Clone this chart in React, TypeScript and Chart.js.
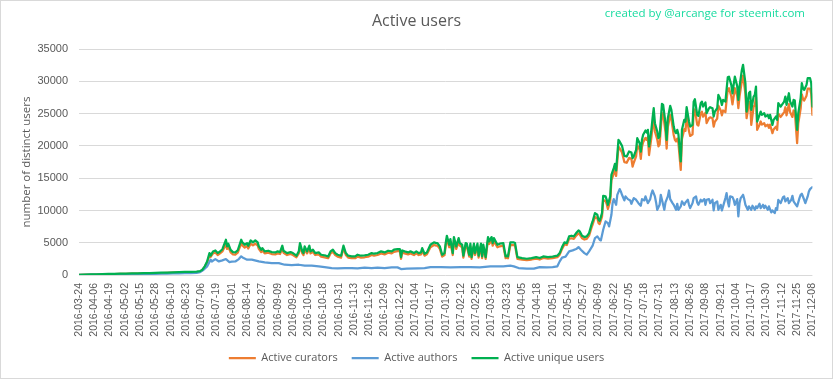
import React, { useEffect, useRef } from 'react';
import { Chart, registerables } from 'chart.js';

Chart.register(...registerables);

// Day offsets are counted from START_DATE (2016-03-24)
const START_DATE = '2016-03-24';

const tickLabels = [
  '2016-03-24', '2016-04-06', '2016-04-19', '2016-05-02', '2016-05-15', '2016-05-28', '2016-06-10',
  '2016-06-23', '2016-07-06', '2016-07-19', '2016-08-01', '2016-08-14', '2016-08-27', '2016-09-09',
  '2016-09-22', '2016-10-05', '2016-10-18', '2016-10-31', '2016-11-13', '2016-11-26', '2016-12-09',
  '2016-12-22', '2017-01-04', '2017-01-17', '2017-01-30', '2017-02-12', '2017-02-25', '2017-03-10',
  '2017-03-23', '2017-04-05', '2017-04-18', '2017-05-01', '2017-05-14', '2017-05-27', '2017-06-09',
  '2017-06-22', '2017-07-05', '2017-07-18', '2017-07-31', '2017-08-13', '2017-08-26', '2017-09-08',
  '2017-09-21', '2017-10-04', '2017-10-17', '2017-10-30', '2017-11-12', '2017-11-25', '2017-12-08',
];

const yTickValues = [0, 5000, 10000, 15000, 20000, 25000, 30000, 35000];

// days shared by "Active unique users" and "Active curators"
const uniqueDays = [
  0, 5, 10, 15, 20, 25, 30, 35, 40, 45, 50, 55, 60, 65, 70, 75, 80, 85, 90, 95, 100, 103,
  105, 107, 109, 111, 112, 114, 116, 118, 120, 122,
  125, 126, 127, 129, 131, 133, 135, 138, 139, 141,
  143, 144, 146, 148, 150, 152, 153, 155, 156, 158,
  161, 164, 167, 169, 171, 173, 174, 177, 180, 182,
  185, 187, 188, 190, 191, 192, 194, 196, 197, 199,
  201, 204, 206, 210, 212, 214, 216, 218, 220, 223,
  225, 227, 229, 232, 235, 237, 240, 243, 246, 249,
  251, 254, 257, 260, 263, 266, 268, 271, 273, 274,
  275, 277, 280, 282, 285, 287, 289, 291, 292, 294,
  296, 299, 302, 304, 305, 307, 309, 311, 312, 313,
  315, 316, 318, 319, 321, 323, 324, 326, 327, 329,
  330, 332, 333, 334, 336, 337, 339, 340, 342, 343,
  344, 346, 347, 348, 349, 351, 352, 353, 356, 358,
  361, 363, 364, 365, 367, 370, 371, 373, 377, 381,
  385, 389, 392, 395, 399, 403, 407, 409, 411, 413,
  415, 417, 419, 421, 423, 425, 426, 428, 430, 432,
  434, 436, 437, 439, 441, 442, 443, 445, 446, 448,
  449, 450, 452, 453, 455, 456, 457, 459, 460, 462,
  464, 466, 468, 470, 471, 472, 474, 475, 477, 478,
  479, 480, 482, 483, 484, 485, 487, 488, 489, 490,
  492, 493, 494, 496, 497, 499, 500, 501, 503, 504,
  506, 507, 508, 509, 510, 512, 513, 515, 516, 517,
  519, 520, 522, 523, 524, 526, 527, 529, 530, 531,
  533, 534, 536, 537, 539, 540, 541, 543, 544, 546,
  547, 548, 550, 551, 552, 553, 555, 556, 557, 558,
  560, 561, 562, 564, 565, 567, 568, 570, 571, 572,
  574, 575, 576, 577, 579, 580, 581, 583, 584, 586,
  587, 588, 590, 591, 593, 594, 595, 597, 598, 600,
  601, 602, 604, 605, 607, 608, 609, 611, 612, 614,
  615, 616, 617, 619, 620, 622, 623, 624,
];

const uniqueUsers = [
  20, 60, 90, 110, 140, 160, 180, 200, 220, 240, 270, 290, 300, 320, 350, 380, 420, 450, 480, 500, 530, 600,
  820, 1340, 2100, 3400, 3000, 3650, 3800, 3400, 3650, 4000,
  5460, 4430, 4850, 3900, 3550, 3500, 3800, 5460, 5050, 4690,
  4950, 4540, 5360, 5050, 5360, 5050, 4430, 3920, 4170, 3660,
  3760, 3550, 3500, 3660, 3550, 4540, 3760, 3400, 3550, 3400,
  2990, 3660, 4950, 3660, 3400, 4430, 3660, 4540, 3660, 3920,
  3400, 3500, 3140, 2990, 2880, 3660, 3920, 3400, 3140, 2990,
  4540, 3400, 2990, 2880, 2880, 3140, 2990, 3040, 3140, 3400,
  3300, 3400, 3660, 3500, 3760, 3660, 3920, 4020, 4020, 2780,
  3810, 3660, 3500, 3660, 3400, 3660, 3400, 3500, 4170, 3300,
  3500, 4690, 5050, 4950, 4950, 4430, 3140, 3400, 4950, 6080,
  4690, 5570, 3400, 5880, 4430, 5720, 4950, 4690, 2990, 4950,
  4850, 3140, 4850, 2780, 4850, 3400, 4850, 2990, 4850, 2880,
  4690, 2780, 4430, 5880, 5210, 5880, 4950, 5720, 4690, 4850,
  4950, 2880, 2990, 2880, 5050, 5050, 4950, 2780, 2630, 2520,
  2630, 2780, 2630, 2880, 2780, 2850, 2990, 3400, 4330, 5050,
  4950, 5980, 6090, 5980, 6500, 6910, 6760, 6090, 5880, 5980,
  6500, 7790, 8300, 9600, 9340, 8560, 8400, 9600, 12280, 12180,
  11660, 10880, 12180, 15530, 16560, 17230, 16200, 20950, 20690, 20020,
  18470, 18370, 19140, 18990, 18110, 18370, 19400, 21210, 20430, 19140,
  20950, 21730, 22400, 22090, 22500, 19920, 22500, 24300, 25850, 23530,
  22250, 21210, 21470, 26520, 26370, 23530, 20950, 24300, 26210, 25590,
  23010, 22250, 22000, 22500, 21800, 17600, 22500, 24050, 23790, 26010,
  23790, 23010, 23270, 26870, 27240, 24820, 24660, 26620, 26880, 26110,
  26730, 25080, 25850, 26010, 25850, 24560, 25330, 25850, 27920, 27140,
  26370, 27140, 26880, 28790, 30650, 30750, 29460, 28170, 29460, 30750,
  29300, 27140, 29200, 31790, 32570, 29730, 25340, 28170, 28430, 25590,
  27660, 27920, 29200, 23790, 24820, 25330, 24820, 25080, 24560, 24820,
  24300, 24820, 23270, 24050, 24560, 24050, 26630, 26110, 26370, 26890,
  27660, 26370, 28170, 26890, 26110, 27150, 27040, 22500, 25080, 27400,
  29730, 28950, 28690, 29470, 30500, 30500, 29730, 26110,
];

const curators = [
  15, 50, 75, 95, 120, 140, 155, 170, 190, 205, 230, 250, 260, 275, 300, 325, 360, 385, 410, 430, 455, 520,
  780, 1250, 1950, 3000, 2800, 3350, 3500, 3100, 3350, 3650,
  4750, 4050, 4400, 3500, 3200, 3150, 3450, 4900, 4600, 4250,
  4500, 4100, 4850, 4600, 4850, 4600, 4050, 3550, 3800, 3350,
  3450, 3250, 3200, 3350, 3250, 4100, 3450, 3100, 3250, 3100,
  2750, 3350, 4450, 3350, 3100, 4000, 3350, 4100, 3350, 3600,
  3100, 3200, 2850, 2700, 2600, 3350, 3600, 3100, 2850, 2700,
  4150, 3100, 2700, 2600, 2600, 2850, 2700, 2750, 2850, 3100,
  3000, 3100, 3350, 3200, 3450, 3350, 3600, 3700, 3700, 2500,
  3500, 3350, 3200, 3350, 3100, 3350, 3100, 3200, 3800, 3000,
  3200, 4300, 4650, 4550, 4550, 4050, 2850, 3100, 4550, 5600,
  4300, 5100, 3100, 5400, 4050, 5250, 4550, 4300, 2700, 4550,
  4450, 2850, 4450, 2500, 4450, 3100, 4450, 2700, 4450, 2600,
  4300, 2500, 4050, 5400, 4800, 5400, 4550, 5250, 4300, 4450,
  4550, 2600, 2700, 2600, 4650, 4650, 4550, 2500, 2400, 2300,
  2400, 2550, 2400, 2650, 2550, 2600, 2750, 3150, 4050, 4750,
  4650, 5600, 5700, 5600, 6100, 6450, 6300, 5700, 5500, 5600,
  6100, 7300, 7800, 9000, 8800, 8050, 7900, 9050, 11600, 11500,
  11000, 10250, 11500, 14700, 15700, 16350, 15350, 19900, 19650, 19000,
  17500, 17400, 18150, 18000, 16800, 17400, 18400, 20100, 19400, 18000,
  19850, 20600, 21250, 20950, 21350, 18600, 21300, 23000, 24450, 22250,
  21000, 19950, 20200, 25100, 24950, 22200, 19600, 22950, 24800, 24200,
  21700, 20950, 20700, 21150, 20450, 16300, 21100, 22600, 22350, 24500,
  22300, 21550, 21800, 25300, 25650, 23300, 23150, 25050, 25300, 24550,
  25150, 23550, 24300, 24450, 24300, 23000, 23750, 24250, 26250, 25500,
  24750, 25500, 25250, 27100, 28850, 28950, 27700, 26450, 27700, 28950,
  27750, 25850, 27650, 30100, 30900, 28100, 24300, 26600, 26850, 23270,
  26100, 26300, 27600, 22500, 23300, 23800, 23300, 23550, 23050, 23300,
  22800, 23300, 21980, 22550, 23000, 22500, 25000, 24500, 24750, 25250,
  26000, 24750, 26500, 25250, 24500, 25500, 25400, 20440, 23500, 25800,
  28000, 27300, 27050, 27800, 28900, 28900, 28100, 24820,
];

const authorDays = [
  0, 5, 10, 15, 20, 25, 30, 35, 40, 45, 50, 55, 60, 65, 70, 75, 80, 85, 90, 95, 100, 103,
  106, 109, 112, 113, 116, 119, 122, 125, 128, 130,
  133, 136, 138, 140, 143, 147, 153, 158, 164, 170,
  175, 181, 187, 192, 198, 204, 209, 215, 220, 226,
  232, 237, 243, 249, 254, 260, 266, 271, 274, 279,
  288, 294, 299, 308, 316, 325, 333, 341, 350, 356,
  361, 367, 370, 374, 381, 387, 392, 398, 403, 407,
  409, 411, 414, 417, 420, 423, 425, 427, 430, 432,
  434, 437, 439, 441, 443, 444, 446, 448, 450, 451,
  453, 454, 455, 457, 458, 460, 461, 462, 464, 465,
  467, 469, 470, 472, 474, 476, 478, 479, 481, 482,
  484, 486, 487, 488, 490, 491, 492, 494, 495, 496,
  498, 499, 501, 502, 503, 505, 506, 508, 509, 510,
  512, 513, 515, 516, 518, 519, 520, 522, 523, 525,
  526, 527, 529, 530, 532, 533, 534, 536, 537, 539,
  540, 541, 543, 544, 546, 547, 548, 550, 551, 552,
  553, 554, 556, 557, 558, 560, 561, 562, 563, 565,
  566, 567, 569, 570, 572, 573, 575, 576, 577, 579,
  580, 582, 583, 584, 586, 587, 589, 590, 592, 593,
  594, 595, 597, 599, 600, 601, 603, 604, 606, 607,
  608, 610, 611, 613, 614, 615, 617, 618, 620, 621,
  622, 624,
];

const authors = [
  10, 30, 50, 60, 80, 90, 100, 110, 120, 130, 150, 160, 170, 180, 200, 220, 240, 260, 280, 300, 330, 450,
  820, 1340, 2370, 2100, 2470, 2100, 2260, 2470, 2000, 2060,
  2100, 2470, 2890, 2620, 2370, 2370, 2110, 1950, 1850, 1850,
  1590, 1540, 1590, 1440, 1440, 1340, 1230, 1080, 1030, 1080,
  1080, 1030, 1130, 1080, 1130, 1080, 1180, 1180, 920, 970,
  1030, 1080, 1230, 1230, 1180, 1230, 1230, 1180, 1340, 1340,
  1340, 1440, 1340, 1080, 980, 980, 1230, 1180, 1230, 1340,
  2110, 2700, 2850, 3660, 3820, 4020, 4330, 3920, 3400, 3150,
  3660, 4540, 5720, 5980, 5470, 5360, 7010, 8300, 8050, 7530,
  9340, 11140, 11760, 10880, 12430, 13310, 12950, 12430, 11560, 12180,
  11760, 11560, 11040, 11920, 11660, 11140, 10730, 11760, 11560, 12180,
  11140, 11760, 12590, 13100, 12180, 11250, 10110, 10880, 12430, 11660,
  10110, 11250, 12180, 13100, 11760, 11140, 10880, 10110, 11040, 10110,
  10630, 11400, 10880, 11250, 11660, 10880, 10370, 11140, 11920, 12180,
  11250, 10880, 11660, 11400, 11760, 10880, 11660, 11760, 11140, 11660,
  10010, 11140, 11400, 10110, 10880, 10010, 10630, 11920, 12690, 11400,
  10630, 12180, 12070, 11660, 10880, 11760, 9080, 11140, 11920, 12430,
  11760, 10880, 10110, 10630, 10110, 10730, 10110, 10630, 10370, 11040,
  10370, 10880, 10370, 10730, 10110, 10630, 9700, 10010, 9600, 10370,
  10110, 11660, 11140, 12070, 12180, 11400, 11920, 11140, 11660, 12280,
  11400, 10880, 10630, 11920, 12430, 12590, 11660, 11140, 12180, 12950,
  13310, 13620,
];

const TITLE = 'Active users';
const CREDIT = 'created by @arcange for steemit.com';
const Y_TITLE = 'number of distinct users';
const SERIES_NAMES = ['Active curators', 'Active authors', 'Active unique users'];
const COLORS = ['#ED7D31', '#5B9BD5', '#00B050'];
const TEXT_COLOR = '#595959';
const GRID_COLOR = '#d9d9d9';
const CREDIT_COLOR = '#19dba0';
const FONT = "'Open Sans', sans-serif";
const TICK_FONT = "'Liberation Sans', Arial, sans-serif";

const dayOf = (label: string) =>
  Math.round((Date.parse(label) - Date.parse(START_DATE)) / 86400000);

const toPoints = (days: number[], values: number[]) =>
  days.map((d, i) => ({ x: d, y: values[i] }));

const framePlugin = {
  id: 'framePlugin',
  beforeDraw(chart: any) {
    const { ctx, width, height } = chart;
    ctx.save();
    ctx.fillStyle = '#ffffff';
    ctx.fillRect(0, 0, width, height);
    ctx.restore();
  },
  afterDraw(chart: any) {
    const { ctx, width, height } = chart;
    ctx.save();
    ctx.strokeStyle = GRID_COLOR;
    ctx.lineWidth = 1;
    ctx.strokeRect(0.5, 0.5, width - 1, height - 1);
    ctx.font = `11.5px ${FONT}`;
    ctx.fillStyle = CREDIT_COLOR;
    ctx.textAlign = 'right';
    ctx.textBaseline = 'middle';
    ctx.fillText(CREDIT, 805, 14);
    ctx.restore();
  },
};

export default function App() {
  const canvasRef = useRef<HTMLCanvasElement | null>(null);

  useEffect(() => {
    if (!canvasRef.current) return;
    Chart.defaults.font.family = FONT;
    const lineStyle = (i: number) => ({
      borderColor: COLORS[i],
      backgroundColor: COLORS[i],
      borderWidth: 2.25,
      pointRadius: 0,
      pointHoverRadius: 0,
      fill: false,
      tension: 0,
      borderJoinStyle: 'round' as const,
      borderCapStyle: 'round' as const,
    });
    const chart = new Chart(canvasRef.current, {
      type: 'line',
      data: {
        datasets: [
          { label: SERIES_NAMES[0], data: toPoints(uniqueDays, curators), order: 2, ...lineStyle(0) },
          { label: SERIES_NAMES[1], data: toPoints(authorDays, authors), order: 1, ...lineStyle(1) },
          { label: SERIES_NAMES[2], data: toPoints(uniqueDays, uniqueUsers), order: 0, ...lineStyle(2) },
        ],
      },
      options: {
        animation: false,
        responsive: false,
        devicePixelRatio: 1,
        layout: { padding: { left: 15, right: 15, top: 0, bottom: 5.5 } },
        plugins: {
          title: {
            display: true,
            text: TITLE,
            color: TEXT_COLOR,
            font: { size: 16, weight: 'normal' as any, family: FONT },
            padding: { top: 12, bottom: 18 },
          },
          legend: {
            display: true,
            position: 'bottom',
            labels: {
              usePointStyle: true,
              pointStyle: 'line',
              pointStyleWidth: 27,
              padding: 14,
              color: TEXT_COLOR,
              font: { size: 11, family: FONT },
              sort: (a: any, b: any) => a.datasetIndex - b.datasetIndex,
            },
          },
          tooltip: { enabled: false },
        },
        scales: {
          x: {
            type: 'linear',
            min: dayOf(tickLabels[0]),
            max: dayOf(tickLabels[tickLabels.length - 1]),
            afterBuildTicks: (axis: any) => {
              axis.ticks = tickLabels.map((l) => ({ value: dayOf(l) }));
            },
            afterFit: (axis: any) => {
              axis.height = 63.5;
            },
            ticks: {
              autoSkip: false,
              minRotation: 90,
              maxRotation: 90,
              padding: 8,
              color: TEXT_COLOR,
              font: { size: 10.5, family: TICK_FONT },
              callback: (_v: any, i: number) => tickLabels[i],
            },
            grid: { display: false, drawTicks: false },
            border: { display: false },
          },
          y: {
            type: 'linear',
            min: yTickValues[0],
            max: yTickValues[yTickValues.length - 1],
            afterBuildTicks: (axis: any) => {
              axis.ticks = yTickValues.map((v) => ({ value: v }));
            },
            afterFit: (axis: any) => {
              axis.width = 64;
            },
            ticks: {
              padding: 11,
              color: TEXT_COLOR,
              font: { size: 11, family: TICK_FONT },
              callback: (v: any) => String(v),
            },
            grid: { color: GRID_COLOR, lineWidth: 1, drawTicks: false },
            border: { display: false },
            title: {
              display: true,
              text: Y_TITLE,
              color: TEXT_COLOR,
              font: { size: 11.5, family: FONT },
              padding: { top: 5, bottom: 2 },
            },
          },
        },
      },
      plugins: [framePlugin],
    });
    return () => chart.destroy();
  }, []);

  return (
    <div style={{ position: 'fixed', left: 0, top: 0, width: 833, height: 379, background: '#fff' }}>
      <canvas ref={canvasRef} width={833} height={379} style={{ display: 'block' }} />
    </div>
  );
}
